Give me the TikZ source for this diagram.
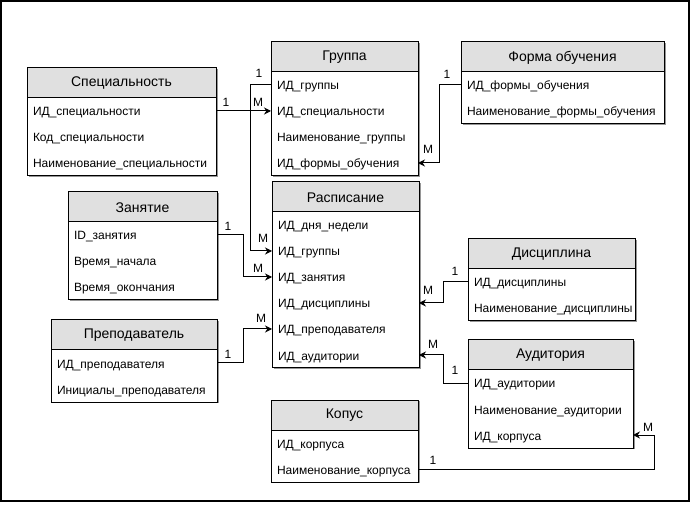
\documentclass[tikz,border=0pt]{standalone}
\usepackage{fontspec}
\setmainfont{Liberation Sans}
\usetikzlibrary{arrows.meta}

\definecolor{hdr}{RGB}{224,224,224}
\definecolor{shd}{RGB}{150,150,150}

\tikzset{
  frame/.style={line width=1.6pt},
  box/.style={draw=black, line width=1pt},
  head/.style={box, fill=hdr},
  title/.style={font=\fontsize{14}{16}\selectfont, inner sep=0pt},
  field/.style={font=\fontsize{12}{14}\selectfont, anchor=north west,
    inner xsep=6pt, inner ysep=0pt, minimum height=26pt, outer sep=0pt,
    align=left, text height=11pt, text depth=1pt},
  link/.style={line width=1pt, -{Stealth[length=7pt,width=7pt]}},
  card/.style={font=\fontsize{12}{14}\selectfont, inner sep=0pt},
}

% ER entity: #1 id, #2 left, #3 top, #4 width, #5 title, #6 list of fields
\newcommand{\entity}[6]{%
  \def\erows{0}%
  \foreach \f [count=\i] in {#6} {\xdef\erows{\i}}%
  \pgfmathsetmacro{\eh}{30+26*\erows}%
  \pgfmathsetmacro{\tw}{#4-12}%
  \fill[shd] (#2+2,#3+1) rectangle ++(#4,\eh);
  \draw[box,fill=white] (#2,#3) rectangle ++(#4,\eh);
  \draw[head] (#2,#3) rectangle ++(#4,30);
  \node[title] (#1) at (#2+#4/2,#3+15.5) {#5};
  \foreach \f [count=\i] in {#6} {
    \node[field, text width=\tw pt] (#1-\i) at (#2,#3+4+26*\i) {\f};
  }
}

\begin{document}
\begin{tikzpicture}[x=1pt,y=-1pt]
  \useasboundingbox (0,0) rectangle (691,521);
  \draw[frame] (1,1) rectangle (689,501);

  \entity{spec}{27}{68}{189}{Специальность}
    {ИД\_специальности, Код\_специальности, Наименование\_специальности}
  \entity{grp}{271}{42}{147}{Группа}
    {ИД\_группы, ИД\_специальности, Наименование\_группы, ИД\_формы\_обучения}
  \entity{forma}{461}{42}{203}{Форма обучения}
    {ИД\_формы\_обучения, Наименование\_формы\_обучения}
  \entity{rasp}{272}{182}{147}{Расписание}
    {ИД\_дня\_недели, ИД\_группы, ИД\_занятия, ИД\_дисциплины, ИД\_преподавателя, ИД\_аудитории}
  \entity{zan}{68}{192}{149}{Занятие}
    {ID\_занятия, Время\_начала, Время\_окончания}
  \entity{prep}{51}{320}{166}{Преподаватель}
    {ИД\_преподавателя, Инициалы\_преподавателя}
  \entity{disc}{468}{239}{167}{Дисциплина}
    {ИД\_дисциплины, Наименование\_дисциплины}
  \entity{aud}{468}{340}{165}{Аудитория}
    {ИД\_аудитории, Наименование\_аудитории, ИД\_корпуса}
  \entity{korp}{271}{400}{147}{Копус}
    {ИД\_корпуса, Наименование\_корпуса}

  % relationships
  \draw[link] (spec-1.east) -- (grp-2.west);
  \draw[link] (grp-1.west) -- ++(-21,0) |- (rasp-2.west);
  \draw[link] (forma-1.west) -- ++(-22,0) |- (grp-4.east);
  \draw[link] (zan-1.east) -- ++(26,0) |- (rasp-3.west);
  \draw[link] (prep-1.east) -- ++(26,0) |- (rasp-5.west);
  \draw[link] (disc-1.west) -- ++(-25,0) |- (rasp-4.east);
  \draw[link] (aud-1.west) -- ++(-25,0) |- (rasp-6.east);
  \draw[link] (korp-2.east) -- ++(236,0) |- (aud-3.east);

  % cardinalities
  \node[card] (c1a) at (226,102) {1};
  \node[card] (c1b) at (258,102) {M};
  \node[card] (c2a) at (259,73) {1};
  \node[card] (c2b) at (263,238) {M};
  \node[card] (c3a) at (447,74) {1};
  \node[card] (c3b) at (428,149) {M};
  \node[card] (c4a) at (228,226) {1};
  \node[card] (c4b) at (258,268) {M};
  \node[card] (c5a) at (228,354) {1};
  \node[card] (c5b) at (261,318) {M};
  \node[card] (c6a) at (455,271) {1};
  \node[card] (c6b) at (428,290) {M};
  \node[card] (c7a) at (433,344) {M};
  \node[card] (c7b) at (455,370) {1};
  \node[card] (c8a) at (433,460) {1};
  \node[card] (c8b) at (648,427) {M};
\end{tikzpicture}
\end{document}
